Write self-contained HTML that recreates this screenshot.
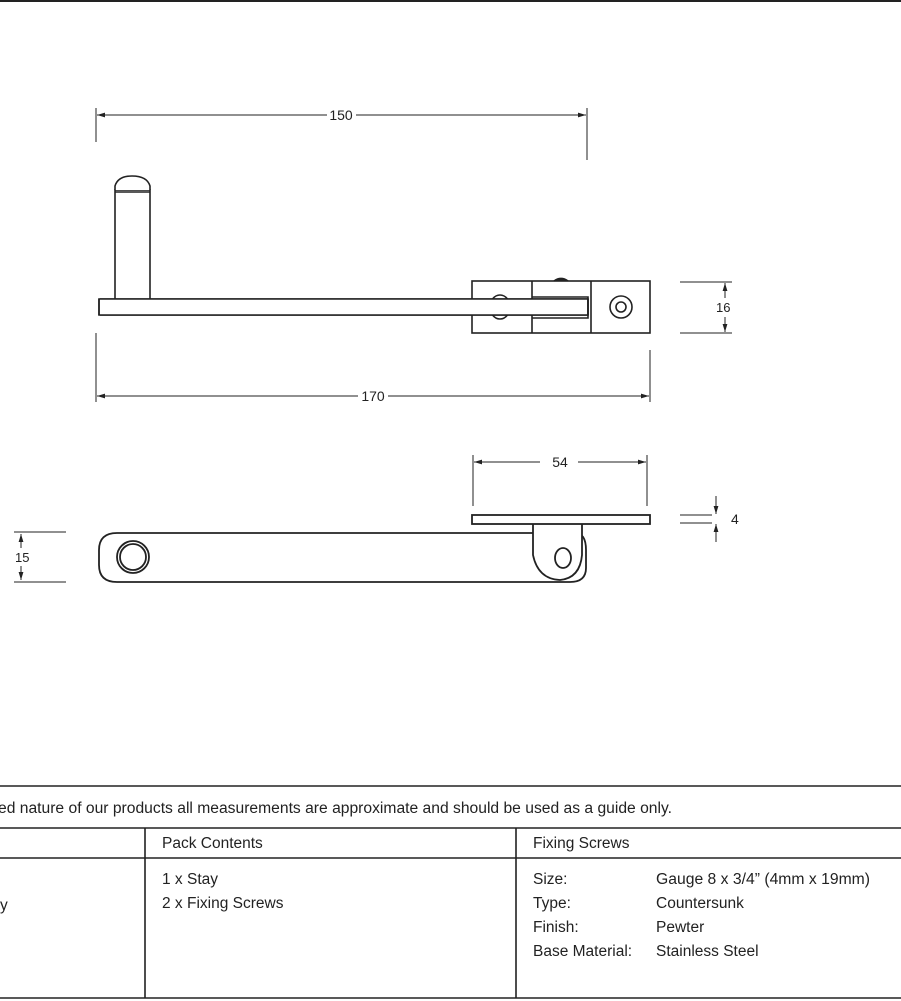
<!DOCTYPE html>
<html><head><style>
html,body{margin:0;padding:0;background:#fff;}
svg{display:block;}
text{font-family:"Liberation Sans",sans-serif;fill:#222;}
</style></head><body>
<svg width="901" height="1001" viewBox="0 0 901 1001" xmlns="http://www.w3.org/2000/svg">
<defs>
<marker id="a" viewBox="0 0 10 6" refX="10" refY="3" markerWidth="8" markerHeight="5" orient="auto-start-reverse"><path d="M0,0L10,3L0,6z" fill="#222"/></marker>
</defs>
<line x1="0" y1="1" x2="901" y2="1" stroke="#222" stroke-width="2"/>
<g stroke="#222" fill="none" stroke-width="1">
<line x1="96" y1="108" x2="96" y2="142"/>
<line x1="587" y1="108" x2="587" y2="160"/>
<line x1="97" y1="115" x2="327" y2="115" marker-start="url(#a)"/>
<line x1="356" y1="115" x2="586" y2="115" marker-end="url(#a)"/>
<line x1="96" y1="333" x2="96" y2="402"/>
<line x1="650" y1="350" x2="650" y2="402"/>
<line x1="97" y1="396" x2="358" y2="396" marker-start="url(#a)"/>
<line x1="388" y1="396" x2="649" y2="396" marker-end="url(#a)"/>
<line x1="680" y1="282" x2="732" y2="282"/>
<line x1="680" y1="333" x2="732" y2="333"/>
<line x1="725" y1="283" x2="725" y2="298" marker-end="url(#a)" transform="rotate(180 725 290.5)"/>
<line x1="725" y1="317" x2="725" y2="332" marker-end="url(#a)"/>
</g>
<g stroke="#222" fill="#fff" stroke-width="1.6">
<rect x="115" y="190" width="35" height="110"/>
<path d="M115,190 L115,186 Q118,176 132,176 Q147,176 150,186 L150,190" />
<line x1="115" y1="192" x2="150" y2="192"/>
<rect x="99" y="299" width="489" height="16"/>
<rect x="472" y="281" width="178" height="52" fill="none"/>
<line x1="532" y1="281" x2="532" y2="333"/>
<line x1="591" y1="281" x2="591" y2="333"/>
<path d="M532,297 H588 V318 H532" fill="none"/>
<path d="M554,281 Q561,276 568,281" fill="#222"/>
<ellipse cx="500" cy="307" rx="10" ry="12" fill="none"/>
<circle cx="621" cy="307" r="11" fill="none"/>
<circle cx="621" cy="307" r="5" fill="none"/>
<rect x="100" y="299.5" width="487" height="15" stroke="none"/>
<line x1="100" y1="299" x2="588" y2="299"/>
<line x1="100" y1="315" x2="588" y2="315"/>
<line x1="99" y1="299" x2="99" y2="315"/>
<line x1="588" y1="299" x2="588" y2="315"/>
</g>
<text x="341" y="120" font-size="14" text-anchor="middle">150</text>
<text x="373" y="401" font-size="14" text-anchor="middle">170</text>
<text x="716" y="312" font-size="13">16</text>
<g stroke="#222" fill="none" stroke-width="1">
<line x1="473" y1="455" x2="473" y2="506"/>
<line x1="647" y1="455" x2="647" y2="506"/>
<line x1="474" y1="462" x2="540" y2="462" marker-start="url(#a)"/>
<line x1="578" y1="462" x2="646" y2="462" marker-end="url(#a)"/>
<line x1="680" y1="515" x2="712" y2="515"/>
<line x1="680" y1="523" x2="712" y2="523"/>
<line x1="716" y1="496" x2="716" y2="514" marker-end="url(#a)"/>
<line x1="716" y1="542" x2="716" y2="524" marker-end="url(#a)"/>
<line x1="14" y1="532" x2="66" y2="532"/>
<line x1="14" y1="582" x2="66" y2="582"/>
<line x1="21" y1="534" x2="21" y2="548" marker-start="url(#a)"/>
<line x1="21" y1="566" x2="21" y2="580" marker-end="url(#a)"/>
</g>
<text x="560" y="467" font-size="14" text-anchor="middle">54</text>
<text x="731" y="524" font-size="14">4</text>
<text x="15" y="562" font-size="13">15</text>
<g stroke="#222" fill="#fff" stroke-width="1.8">
<path d="M117,533 H575 Q586,533 586,550 L586,568 Q586,582 570,582 H117 Q99,582 99,565 V550 Q99,533 117,533 Z"/>
<path d="M533,524 V555 Q538,579 560,580 Q580,578 582,555 V524" />
<rect x="472" y="515" width="178" height="9"/>
<circle cx="133" cy="557" r="16"/>
<circle cx="133" cy="557" r="13"/>
<ellipse cx="563" cy="558" rx="8" ry="10"/>
</g>
<g stroke="#222" stroke-width="1.6">
<line x1="0" y1="786" x2="901" y2="786"/>
<line x1="0" y1="828" x2="901" y2="828"/>
<line x1="0" y1="858" x2="901" y2="858"/>
<line x1="0" y1="998" x2="901" y2="998"/>
<line x1="145" y1="828" x2="145" y2="998"/>
<line x1="516" y1="828" x2="516" y2="998"/>
</g>
<g font-size="15.5">
<text x="-2" y="813" textLength="674" lengthAdjust="spacingAndGlyphs">ed nature of our products all measurements are approximate and should be used as a guide only.</text>
<text x="162" y="848">Pack Contents</text>
<text x="533" y="848">Fixing Screws</text>
<text x="0" y="910">y</text>
<text x="162" y="884">1 x Stay</text>
<text x="162" y="908">2 x Fixing Screws</text>
<text x="533" y="884">Size:</text>
<text x="533" y="908">Type:</text>
<text x="533" y="932">Finish:</text>
<text x="533" y="956">Base Material:</text>
<text x="656" y="884" textLength="214" lengthAdjust="spacingAndGlyphs">Gauge 8 x 3/4” (4mm x 19mm)</text>
<text x="656" y="908">Countersunk</text>
<text x="656" y="932">Pewter</text>
<text x="656" y="956">Stainless Steel</text>
</g>
</svg>
</body></html>
